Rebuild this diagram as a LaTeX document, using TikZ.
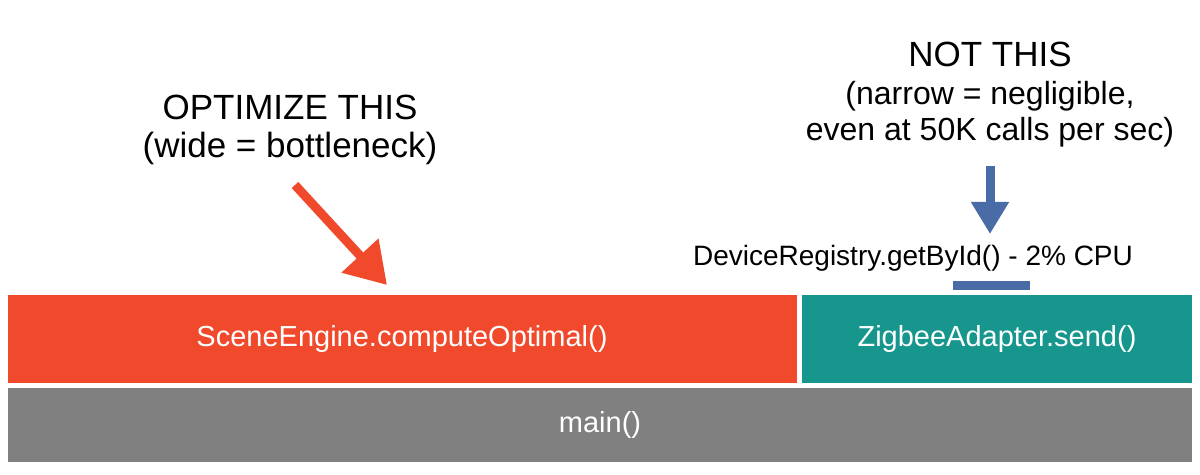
\documentclass[tikz,border=0pt]{standalone}
\usepackage{fontspec}
\setmainfont{Liberation Sans}
\usetikzlibrary{arrows.meta}
\definecolor{cred}{HTML}{F0492B}
\definecolor{cteal}{HTML}{16968C}
\definecolor{cgray}{HTML}{808080}
\definecolor{cblue}{HTML}{4A6CA6}
\begin{document}
\begin{tikzpicture}[x=0.5pt,y=-0.5pt,
  bt/.style={text=white,font=\fontsize{14.5}{16}\selectfont},
  lbl/.style={align=center,font=\fontsize{17.5}{22}\selectfont},
  arr/.style={line width=4.5pt,-{Triangle[length=20pt,width=24pt]}}]
\useasboundingbox (0,0) rectangle (1200,475);
\fill[cred] (8,295) rectangle (797,383);
\node[bt] (se) at (402,339) {SceneEngine.computeOptimal()};
\fill[cteal] (802,295) rectangle (1192,383);
\node[bt] (zb) at (997,339) {ZigbeeAdapter.send()};
\fill[cgray] (8,388) rectangle (1192,462);
\node[bt] (mn) at (600,425) {main()};
\fill[cblue] (953,281) rectangle (1030,290);
\node[font=\fontsize{14}{16}\selectfont] (dr) at (913,258) {DeviceRegistry.getById() - 2\% CPU};
\node[lbl] (opt) at (290,130) {OPTIMIZE THIS\\[-3pt]{\fontsize{17.5}{22}\selectfont(wide = bottleneck)}};
\node[lbl] (nt) at (990,95) {NOT THIS\\[-3pt]{\fontsize{16}{21}\selectfont(narrow = negligible,}\\[-4pt]{\fontsize{16}{21}\selectfont even at 50K calls per sec)}};
\coordinate (ra) at (295,185); \coordinate (rb) at (387,285);
\draw[arr,cred] (ra) -- (rb);
\coordinate (ba) at (990,166); \coordinate (bb) at (990,234);
\draw[arr,cblue,-{Triangle[length=16pt,width=18pt]}] (ba) -- (bb);
\end{tikzpicture}
\end{document}
